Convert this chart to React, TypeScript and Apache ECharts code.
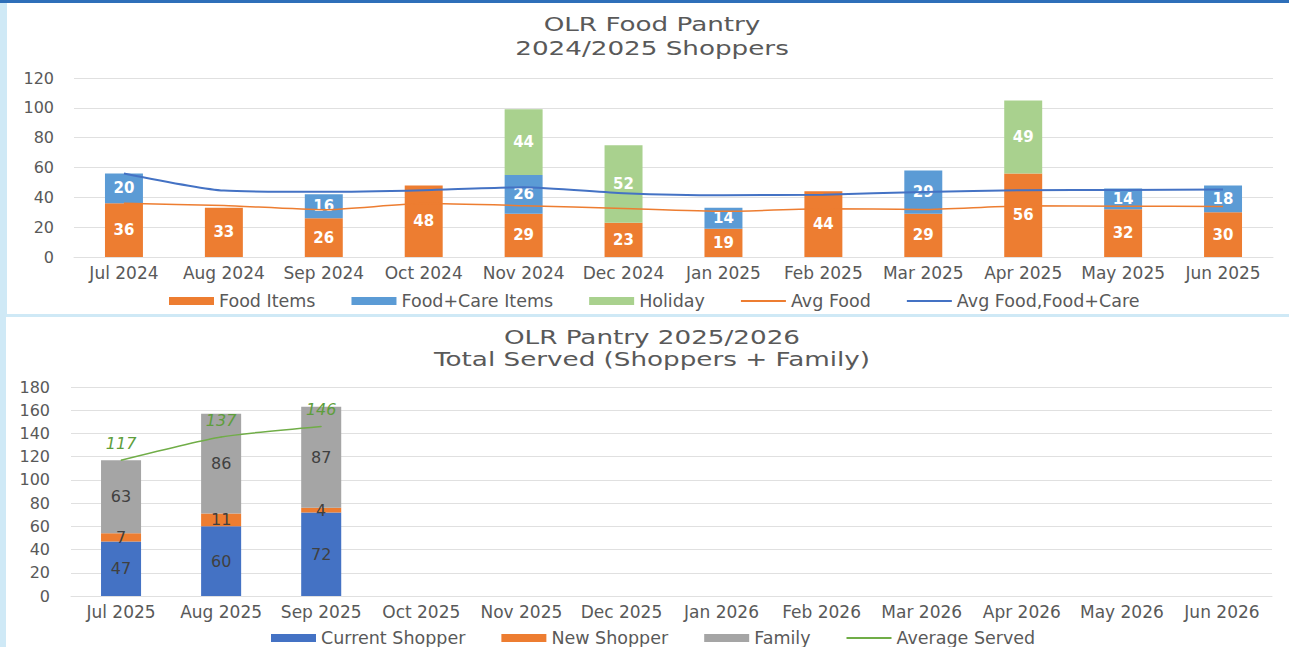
import { useEffect, useRef } from "react";
import * as echarts from "echarts";

// ---- Chart 1: 2024/2025 Shoppers ----
const months1 = ["Jul 2024", "Aug 2024", "Sep 2024", "Oct 2024", "Nov 2024", "Dec 2024", "Jan 2025", "Feb 2025", "Mar 2025", "Apr 2025", "May 2025", "Jun 2025"];
const foodItems = [36, 33, 26, 48, 29, 23, 19, 44, 29, 56, 32, 30];
const foodCareItems = [20, null, 16, null, 26, null, 14, null, 29, null, 14, 18];
const holiday = [null, null, null, null, 44, 52, null, null, null, 49, null, null];
const avgFood = [36, 34.5, 31.7, 35.8, 34.4, 32.5, 30.6, 32.3, 31.9, 34.3, 34.1, 33.8];
const avgFoodCare = [56, 44.5, 43.7, 44.8, 46.8, 42.8, 41.4, 41.8, 43.6, 44.8, 44.9, 45.2];

// ---- Chart 2: 2025/2026 Total Served ----
const months2 = ["Jul 2025", "Aug 2025", "Sep 2025", "Oct 2025", "Nov 2025", "Dec 2025", "Jan 2026", "Feb 2026", "Mar 2026", "Apr 2026", "May 2026", "Jun 2026"];
const currentShopper = [47, 60, 72];
const newShopper = [7, 11, 4];
const family = [63, 86, 87];
const avgServed = [117, 137, 146];

const FONT = "DejaVu Sans";
const TXT = "#595959";
const GRIDC = "#e0e0e0";
const LINE_ICON = "path://M0,0H45V2H0Z";

export default function App() {
  const ref = useRef<HTMLDivElement>(null);

  useEffect(() => {
    document.body.style.margin = "0";
    if (!ref.current) return;
    const chart = echarts.init(ref.current, null, { renderer: "svg" });

    const xAxisBase = (data: string[], gridIndex: number) => ({
      type: "category",
      gridIndex,
      data,
      axisLine: { show: true, lineStyle: { color: GRIDC, width: 1 } },
      axisTick: { show: false },
      axisLabel: { color: TXT, fontSize: 17, fontFamily: FONT, margin: 7, interval: 0 },
    });
    const yAxisBase = (max: number, gridIndex: number, margin: number) => ({
      type: "value",
      gridIndex,
      min: 0,
      max,
      interval: 20,
      axisLine: { show: false },
      axisTick: { show: false },
      axisLabel: { color: TXT, fontSize: 16, fontFamily: FONT, margin },
      splitLine: { lineStyle: { color: GRIDC, width: 1 } },
    });

    const whiteBold = {
      show: true,
      position: "inside",
      color: "#ffffff",
      fontWeight: "bold",
      fontSize: 15,
      fontFamily: FONT,
      formatter: (p: any) => (p.value == null ? "" : String(p.value)),
    };
    const darkLbl = {
      show: true,
      position: "inside",
      color: "#404040",
      fontSize: 16,
      fontFamily: FONT,
    };

    const titleText = (text: string, y: number) => ({
      type: "text",
      x: 652,
      y,
      scaleX: 1.38,
      silent: true,
      style: {
        text,
        fill: TXT,
        fontSize: 19,
        fontFamily: FONT,
        textAlign: "center",
        verticalAlign: "middle",
        textVerticalAlign: "middle",
      },
    });

    chart.setOption({
      animation: false,
      backgroundColor: "transparent",
      graphic: [
        titleText("OLR Food Pantry", 24),
        titleText("2024/2025 Shoppers", 48),
        titleText("OLR Pantry 2025/2026", 337),
        titleText("Total Served (Shoppers + Family)", 359),
      ],
      grid: [
        { left: 74, right: 16, top: 78, height: 179 },
        { left: 71, right: 17, top: 387, height: 209 },
      ],
      xAxis: [xAxisBase(months1, 0), xAxisBase(months2, 1)],
      yAxis: [yAxisBase(120, 0, 20), yAxisBase(180, 1, 21)],
      legend: [
        {
          data: [
            { name: "Food Items", icon: "rect" },
            { name: "Food+Care Items", icon: "rect" },
            { name: "Holiday", icon: "rect" },
            { name: "Avg Food", icon: LINE_ICON },
            { name: "Avg Food,Food+Care", icon: LINE_ICON },
          ],
          left: 169,
          top: 292,
          padding: 0,
          itemWidth: 45,
          itemHeight: 8,
          itemGap: 36,
          textStyle: { color: TXT, fontSize: 17.5, fontFamily: FONT },
        },
        {
          data: [
            { name: "Current Shopper", icon: "rect" },
            { name: "New Shopper", icon: "rect" },
            { name: "Family", icon: "rect" },
            { name: "Average Served", icon: LINE_ICON },
          ],
          left: 271,
          top: 629,
          padding: 0,
          itemWidth: 45,
          itemHeight: 8,
          itemGap: 36,
          textStyle: { color: TXT, fontSize: 17.5, fontFamily: FONT },
        },
      ],
      series: [
        {
          name: "Food Items",
          type: "bar",
          stack: "s1",
          xAxisIndex: 0,
          yAxisIndex: 0,
          barWidth: "38%",
          data: foodItems,
          itemStyle: { color: "#ed7d31" },
          label: whiteBold,
        },
        {
          name: "Food+Care Items",
          type: "bar",
          stack: "s1",
          xAxisIndex: 0,
          yAxisIndex: 0,
          data: foodCareItems,
          itemStyle: { color: "#5b9bd5" },
          label: whiteBold,
        },
        {
          name: "Holiday",
          type: "bar",
          stack: "s1",
          xAxisIndex: 0,
          yAxisIndex: 0,
          data: holiday,
          itemStyle: { color: "#a9d18e" },
          label: whiteBold,
        },
        {
          name: "Avg Food",
          type: "line",
          xAxisIndex: 0,
          yAxisIndex: 0,
          data: avgFood,
          symbol: "none",
          smooth: 0.2,
          lineStyle: { color: "#ed7d31", width: 1.5 },
          itemStyle: { color: "#ed7d31" },
          z: 5,
        },
        {
          name: "Avg Food,Food+Care",
          type: "line",
          xAxisIndex: 0,
          yAxisIndex: 0,
          data: avgFoodCare,
          symbol: "none",
          smooth: 0.2,
          lineStyle: { color: "#4472c4", width: 2 },
          itemStyle: { color: "#4472c4" },
          z: 5,
        },
        {
          name: "Current Shopper",
          type: "bar",
          stack: "s2",
          xAxisIndex: 1,
          yAxisIndex: 1,
          barWidth: "40%",
          data: currentShopper,
          itemStyle: { color: "#4472c4" },
          label: darkLbl,
        },
        {
          name: "New Shopper",
          type: "bar",
          stack: "s2",
          xAxisIndex: 1,
          yAxisIndex: 1,
          data: newShopper,
          itemStyle: { color: "#ed7d31" },
          label: darkLbl,
        },
        {
          name: "Family",
          type: "bar",
          stack: "s2",
          xAxisIndex: 1,
          yAxisIndex: 1,
          data: family,
          itemStyle: { color: "#a5a5a5" },
          label: darkLbl,
        },
        {
          name: "Average Served",
          type: "line",
          xAxisIndex: 1,
          yAxisIndex: 1,
          data: avgServed,
          symbol: "circle",
          symbolSize: 1,
          showSymbol: true,
          smooth: 0.2,
          lineStyle: { color: "#70ad47", width: 1.5 },
          itemStyle: { color: "#70ad47" },
          label: {
            show: true,
            position: "top",
            distance: 8,
            color: "#5e9e3c",
            fontStyle: "italic",
            fontSize: 16,
            fontFamily: FONT,
          },
          z: 5,
        },
      ],
    });

    return () => chart.dispose();
  }, []);

  return (
    <div style={{ position: "relative", width: 1289, height: 647, background: "#cfe9f6", overflow: "hidden" }}>
      <div style={{ position: "absolute", left: 0, top: 0, width: 1289, height: 3, background: "#2e6fb9" }} />
      <div style={{ position: "absolute", left: 7, top: 3, width: 1282, height: 311, background: "#ffffff" }} />
      <div style={{ position: "absolute", left: 6, top: 317, width: 1283, height: 330, background: "#ffffff" }} />
      <div ref={ref} style={{ position: "absolute", left: 0, top: 0, width: 1289, height: 647 }} />
    </div>
  );
}
